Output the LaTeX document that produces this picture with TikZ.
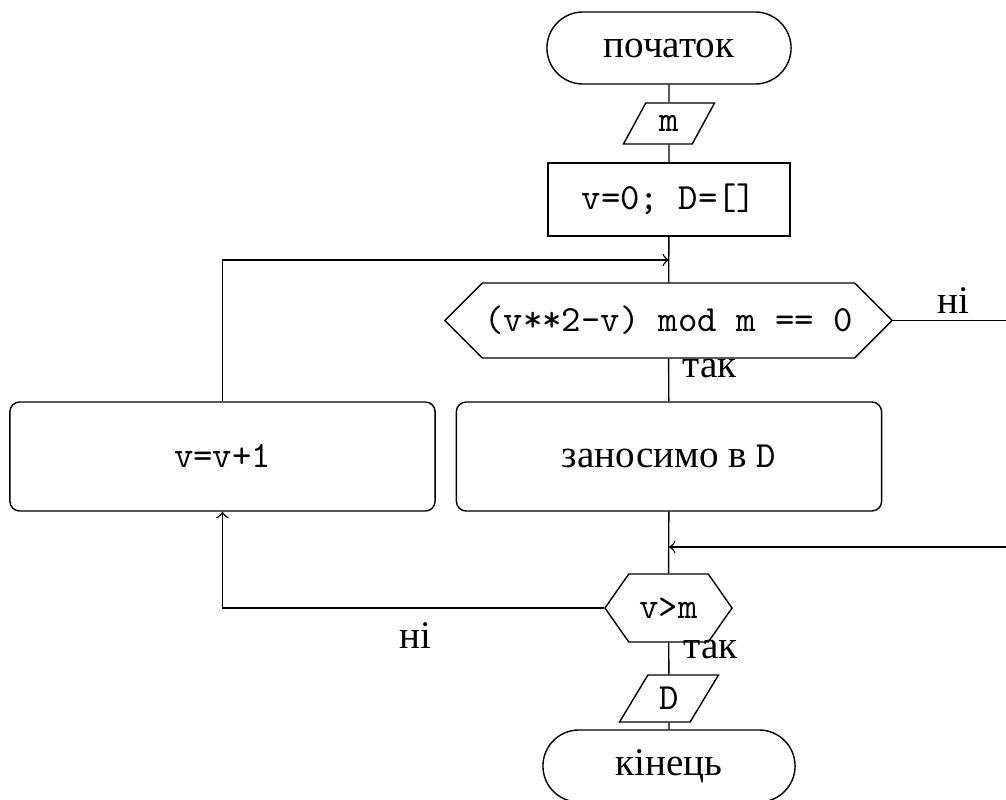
\documentclass[tikz,border=0pt]{standalone}
\usepackage{fontspec}
\setmainfont[Scale=1.06]{Liberation Serif}
\usetikzlibrary{shapes.geometric,shapes.symbols}

\begin{document}
\begin{tikzpicture}[x=0.01cm, y=-0.01cm,
    every node/.style={font=\fontsize{10.5pt}{13pt}\selectfont},
    terminal/.style={draw, rectangle, rounded corners=0.36cm, minimum height=0.72cm, inner sep=0pt},
    process/.style={draw, rectangle, inner sep=0pt},
    action/.style={draw, rectangle, rounded corners=2.8pt, minimum width=4.25cm, minimum height=1.09cm, inner sep=0pt},
    decision/.style={draw, signal, signal to=west and east, inner sep=0pt},
    io/.style={draw, trapezium, trapezium left angle=60, trapezium right angle=120, trapezium stretches=true, inner sep=0pt},
    tag/.style={anchor=west, inner sep=0pt}]

    % Fix the frame of the picture
    \useasboundingbox (0,0) rectangle (1006,800);

    % Nodes of the main column
    \node[terminal, minimum width=2.44cm] (start) at (669,48) {початок};
    \node[io, minimum width=0.91cm, minimum height=0.41cm] (inm) at (669,123.5) {\texttt{m}};
    \node[process, minimum width=2.42cm, minimum height=0.73cm] (init) at (669,199.5) {\texttt{v=0; D=[]}};
    \node[decision, signal pointer angle=90, minimum width=4.47cm, minimum height=0.75cm] (check) at (668.5,320.5) {\texttt{(v**2-v) mod m == 0}};
    \node[action] (store) at (669,456.5) {заносимо в \texttt{D}};
    \node[decision, signal pointer angle=110, minimum width=1.27cm, minimum height=0.68cm] (stop) at (668.5,608) {\texttt{v>m}};
    \node[io, minimum width=0.99cm, minimum height=0.47cm] (outd) at (669,698.5) {\texttt{D}};
    \node[terminal, minimum width=2.52cm] (finish) at (669,766) {кінець};

    % Node of the side branch
    \node[action] (step) at (222.5,456.5) {\texttt{v=v+1}};

    % Points where the loops come back
    \coordinate (joinA) at (669,260);
    \coordinate (joinB) at (669,547);
    \coordinate (farA) at (1012,320.5);
    \coordinate (farB) at (1012,547);

    % Straight connectors
    \draw (start) -- (inm);
    \draw (inm) -- (init);
    \draw (init) -- (check);
    \draw (check) -- (store);
    \draw (store) -- (stop);
    \draw (stop) -- (outd);
    \draw (outd) -- (finish);

    % Loops
    \draw[->] (check.east) -- (farA) -- (farB) -- (joinB);
    \draw[->] (stop.west) -| (step.south);
    \draw[->] (step.north) |- (joinA);

    % Branch labels
    \node[tag] (yesA) at (682,369) {так};
    \node[tag] (noA) at (937,301) {ні};
    \node[tag] (yesB) at (683,649) {так};
    \node[tag] (noB) at (399,636) {ні};

\end{tikzpicture}
\end{document}
